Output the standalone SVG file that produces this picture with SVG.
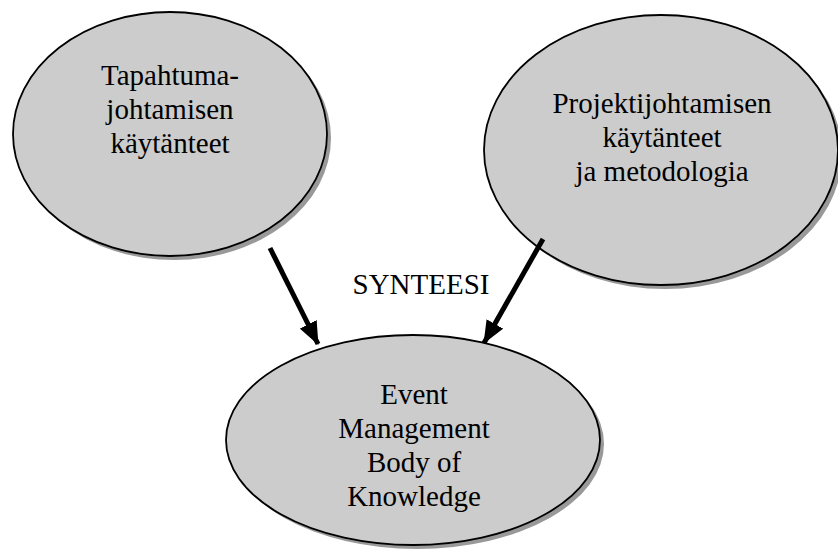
<svg xmlns="http://www.w3.org/2000/svg" width="838" height="555" viewBox="0 0 838 555">
  <defs>
    <style>
      .shadow { fill: #999999; stroke: none; }
      .node { fill: #cccccc; stroke: #000; stroke-width: 1.8; }
      .label { font-family: "Liberation Serif", "Times New Roman", serif; font-size: 29px; fill: #000; text-anchor: middle; }
      .edge { stroke: #000; stroke-width: 5; fill: none; marker-end: url(#head); }
    </style>
    <marker id="head" markerWidth="4.6" markerHeight="3.8" refX="4.4" refY="1.9" orient="auto" markerUnits="strokeWidth">
      <path d="M0,0 L4.6,1.9 L0,3.8 Z" fill="#000"/>
    </marker>
  </defs>
  <rect width="838" height="555" fill="#fff"/>

  <g id="node-tapahtuma">
    <ellipse class="shadow" cx="174" cy="138" rx="157" ry="122"/>
    <ellipse class="node" cx="170" cy="134" rx="157" ry="122"/>
    <text class="label" x="170" y="85">Tapahtuma-</text>
    <text class="label" x="170" y="119">johtamisen</text>
    <text class="label" x="170" y="153">käytänteet</text>
  </g>

  <g id="node-projekti">
    <ellipse class="shadow" cx="665" cy="154" rx="177" ry="135"/>
    <ellipse class="node" cx="661" cy="150" rx="177" ry="135"/>
    <text class="label" x="662" y="113">Projektijohtamisen</text>
    <text class="label" x="662" y="147">käytänteet</text>
    <text class="label" x="662" y="181">ja metodologia</text>
  </g>

  <g id="node-embok">
    <ellipse class="shadow" cx="417" cy="444" rx="187" ry="105"/>
    <ellipse class="node" cx="413" cy="440" rx="187" ry="105"/>
    <text class="label" x="414" y="404">Event</text>
    <text class="label" x="414" y="438">Management</text>
    <text class="label" x="414" y="472">Body of</text>
    <text class="label" x="414" y="506">Knowledge</text>
  </g>

  <g id="connectors">
    <line class="edge" x1="270" y1="248" x2="318" y2="344"/>
    <line class="edge" x1="543" y1="239" x2="484" y2="343"/>
    <text class="label" x="421" y="294">SYNTEESI</text>
  </g>
</svg>
